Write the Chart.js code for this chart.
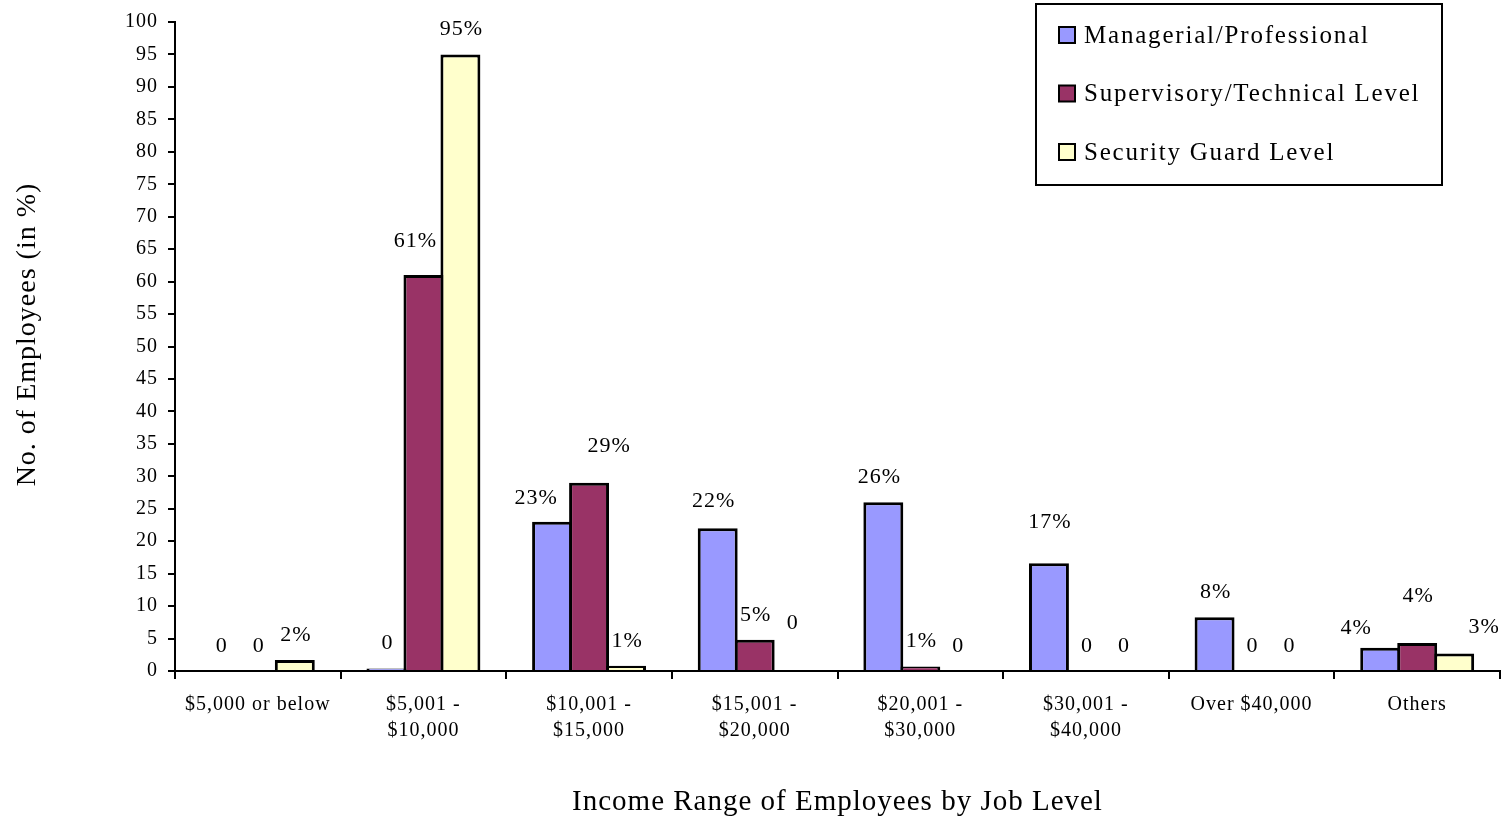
<!DOCTYPE html>
<html>
<head>
<meta charset="utf-8">
<title>Income Range of Employees by Job Level</title>
<script src="https://cdn.jsdelivr.net/npm/chart.js@4/dist/chart.umd.min.js"></script>
<style>
  html, body { margin: 0; padding: 0; background: #fff; }
  #wrap { width: 1508px; height: 822px; position: relative; }
</style>
</head>
<body>
<div id="wrap"><canvas id="chart"></canvas></div>
<script>
// Income ranges (x categories)
const incomeRanges = [
  '$5,000 or below',
  ['$5,001 -', '$10,000'],
  ['$10,001 -', '$15,000'],
  ['$15,001 -', '$20,000'],
  ['$20,001 -', '$30,000'],
  ['$30,001 -', '$40,000'],
  'Over $40,000',
  'Others'
];

// Share of employees (%) in each income range, by job level
const managerial  = [0, 0.4, 23, 22, 26, 16.6, 8.3, 3.6];
const supervisory = [0, 61, 29, 4.8, 0.7, 0, 0, 4.3];
const security    = [1.7, 95, 0.8, 0, 0, 0, 0, 2.7];

const seriesNames = [
  'Managerial/Professional',
  'Supervisory/Technical Level',
  'Security Guard Level'
];

const yTicks = { min: 0, max: 100, step: 5 };

// hand-placed value labels: [series, category, dx, dy] offsets from the default spot
const labelNudges = [
  [1, 1, -9, -9],
  [0, 2, -17, 1],
  [1, 2, 19, -12],
  [0, 3, -5, -2],
  [2, 3, 0, -23],
  [0, 4, -5, 0],
  [0, 5, 0, -16],
  [0, 7, -25, 6],
  [1, 7, 0, -22],
  [2, 7, 29, -1]
];

const SERIF = '"Liberation Serif", "Times New Roman", serif';

// value label: rounded percent, plain "0" for empty bars
function fmtPct(v) {
  const r = Math.round(v);
  return r === 0 ? '0' : r + '%';
}

function nudgeFor(di, i) {
  const n = labelNudges.find(a => a[0] === di && a[1] === i);
  return n ? [n[2], n[3]] : [0, 0];
}

const textSpacing = {
  id: 'textSpacing',
  beforeDraw(chart) { chart.ctx.letterSpacing = '1px'; },
  afterDraw(chart) { chart.ctx.letterSpacing = '0px'; }
};

const valueLabels = {
  id: 'valueLabels',
  afterDatasetsDraw(chart) {
    const ctx = chart.ctx;
    ctx.save();
    ctx.letterSpacing = '1px';
    ctx.font = '22px ' + SERIF;
    ctx.fillStyle = '#000';
    ctx.textAlign = 'center';
    ctx.textBaseline = 'middle';
    chart.data.datasets.forEach((ds, di) => {
      const meta = chart.getDatasetMeta(di);
      meta.data.forEach((bar, i) => {
        const [dx, dy] = nudgeFor(di, i);
        ctx.fillText(fmtPct(ds.data[i]), bar.x + 1 + dx, bar.y - 25 + dy);
      });
    });
    ctx.restore();
  }
};

const boxLegend = {
  id: 'boxLegend',
  afterDraw(chart) {
    const ctx = chart.ctx;
    const right = chart.width - 66;
    const left = right - 406;
    const top = 4, height = 181;
    ctx.save();
    ctx.letterSpacing = '1.8px';
    ctx.fillStyle = '#fff';
    ctx.fillRect(left, top, right - left, height);
    ctx.strokeStyle = '#000';
    ctx.lineWidth = 2;
    ctx.strokeRect(left, top, right - left, height);
    ctx.font = '25px ' + SERIF;
    ctx.textAlign = 'left';
    ctx.textBaseline = 'middle';
    chart.data.datasets.forEach((ds, i) => {
      const cy = top + 31 + i * 58.5;
      ctx.fillStyle = ds.backgroundColor;
      ctx.fillRect(left + 23, cy - 8, 16, 16);
      ctx.lineWidth = 2;
      ctx.strokeStyle = '#000';
      ctx.strokeRect(left + 23, cy - 8, 16, 16);
      ctx.fillStyle = '#000';
      ctx.fillText(ds.label, left + 48, cy + 1);
    });
    ctx.restore();
  }
};

// bars slightly wider than their slot so neighbours share a single outline
const barStyle = { borderColor: '#000', borderWidth: 3, categoryPercentage: 0.67, barPercentage: 1.08 };

new Chart(document.getElementById('chart'), {
  type: 'bar',
  data: {
    labels: incomeRanges,
    datasets: [
      Object.assign({ label: seriesNames[0], data: managerial,  backgroundColor: '#9999FF' }, barStyle),
      Object.assign({ label: seriesNames[1], data: supervisory, backgroundColor: '#993366' }, barStyle),
      Object.assign({ label: seriesNames[2], data: security,    backgroundColor: '#FFFFCC' }, barStyle)
    ]
  },
  options: {
    responsive: true,
    maintainAspectRatio: false,
    animation: false,
    events: [],
    layout: { padding: { top: 19, right: 8, left: 0, bottom: 0 } },
    plugins: { legend: { display: false }, tooltip: { enabled: false } },
    scales: {
      x: {
        grid: { display: true, offset: true, drawOnChartArea: false, drawTicks: true, tickLength: 8, color: '#000', lineWidth: 2 },
        border: { display: true, color: '#000', width: 2 },
        ticks: {
          color: '#000', maxRotation: 0, minRotation: 0, autoSkip: false, padding: 13,
          font: { family: SERIF, size: 20, lineHeight: 1.3 }
        },
        title: {
          display: true, text: 'Income Range of Employees by Job Level', color: '#000',
          font: { family: SERIF, size: 29 }, padding: { top: 0, bottom: 2 }
        },
        afterFit(scale) { scale.height = 151; }
      },
      y: {
        min: yTicks.min, max: yTicks.max,
        grid: { display: true, drawOnChartArea: false, drawTicks: true, tickLength: 7, color: '#000', lineWidth: 2 },
        border: { display: true, color: '#000', width: 2 },
        ticks: {
          stepSize: yTicks.step, color: '#000', padding: 10,
          font: { family: SERIF, size: 20 }
        },
        title: {
          display: true, text: '   No. of Employees (in %)', color: '#000',
          font: { family: SERIF, size: 28 }, padding: { top: 11, bottom: 0 }
        },
        afterFit(scale) { scale.width = 175; }
      }
    }
  },
  plugins: [textSpacing, valueLabels, boxLegend]
});
</script>
</body>
</html>
